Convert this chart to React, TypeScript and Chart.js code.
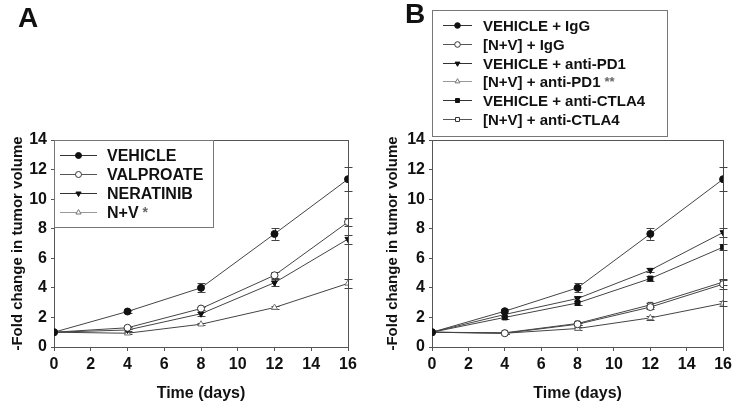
import React, { useEffect, useRef } from 'react';
import { Chart, registerables } from 'chart.js';

Chart.register(...registerables);

// ---------- DATA ----------
const days = [0, 4, 8, 12, 16];
const xTicksMin = 0;
const xTicksMax = 16;
const yTicksMin = 0;
const yTicksMax = 14;

// Panel A
const aLabels = ['VEHICLE', 'VALPROATE', 'NERATINIB', 'N+V'];
const aSuffix = ['', '', '', '*'];
const aVehicle = [1, 2.4, 4.0, 7.65, 11.35];
const aValproate = [1, 1.3, 2.6, 4.85, 8.45];
const aNeratinib = [1, 1.15, 2.25, 4.35, 7.3];
const aNV = [1, 0.93, 1.54, 2.67, 4.3];
const aVehicleErr = [0, 0.12, 0.3, 0.4, 0.8];
const aValproateErr = [0, 0.08, 0.12, 0.2, 0.25];
const aNeratinibErr = [0, 0.08, 0.15, 0.25, 0.3];
const aNVErr = [0, 0.06, 0.08, 0.12, 0.3];

// Panel B
const bLabels = [
  'VEHICLE + IgG',
  '[N+V] + IgG',
  'VEHICLE + anti-PD1',
  '[N+V] + anti-PD1',
  'VEHICLE + anti-CTLA4',
  '[N+V] + anti-CTLA4',
];
const bSuffix = ['', '', '', '**', '', ''];
const bVehIgG = [1, 2.42, 4.0, 7.65, 11.35];
const bNVIgG = [1, 0.93, 1.54, 2.7, 4.25];
const bVehPD1 = [1, 2.2, 3.28, 5.2, 7.75];
const bNVPD1 = [1, 0.93, 1.25, 1.97, 2.95];
const bVehCTLA4 = [1, 2.0, 2.98, 4.63, 6.75];
const bNVCTLA4 = [1, 0.96, 1.59, 2.85, 4.39];
const bVehIgGErr = [0, 0.12, 0.3, 0.4, 0.8];
const bNVIgGErr = [0, 0.06, 0.08, 0.12, 0.3];
const bVehPD1Err = [0, 0.1, 0.15, 0.15, 0.3];
const bNVPD1Err = [0, 0.06, 0.08, 0.12, 0.15];
const bVehCTLA4Err = [0, 0.1, 0.15, 0.15, 0.2];
const bNVCTLA4Err = [0, 0.06, 0.1, 0.12, 0.2];

// ---------- STYLES ----------
const FONT = '"Liberation Sans", Arial, Helvetica, sans-serif';
Chart.defaults.font.family = FONT;

type Marker = { style: string; rot: number; fill: string; stroke: string; legendLine: string };
const M_FILLED_CIRCLE: Marker = { style: 'circle', rot: 0, fill: '#111', stroke: '#111', legendLine: '#333' };
const M_OPEN_CIRCLE: Marker = { style: 'circle', rot: 0, fill: '#fff', stroke: '#333', legendLine: '#555' };
const M_DOWN_TRI: Marker = { style: 'triangle', rot: 180, fill: '#111', stroke: '#111', legendLine: '#333' };
const M_OPEN_TRI: Marker = { style: 'triangle', rot: 0, fill: '#fff', stroke: '#777', legendLine: '#999' };
const M_FILLED_SQ: Marker = { style: 'rect', rot: 0, fill: '#111', stroke: '#111', legendLine: '#333' };
const M_OPEN_SQ: Marker = { style: 'rect', rot: 0, fill: '#fff', stroke: '#333', legendLine: '#555' };

function drawMarker(ctx: CanvasRenderingContext2D, m: Marker, x: number, y: number, r: number) {
  ctx.save();
  ctx.beginPath();
  if (m.style === 'circle') {
    ctx.arc(x, y, r, 0, Math.PI * 2);
  } else if (m.style === 'rect') {
    const h = r * Math.SQRT1_2 * 1.0;
    ctx.rect(x - h, y - h, 2 * h, 2 * h);
  } else {
    const d = m.rot === 180 ? -1 : 1;
    ctx.moveTo(x, y - d * r);
    ctx.lineTo(x - r * 0.866, y + d * r * 0.5);
    ctx.lineTo(x + r * 0.866, y + d * r * 0.5);
    ctx.closePath();
  }
  ctx.fillStyle = m.fill;
  ctx.fill();
  ctx.strokeStyle = m.stroke;
  ctx.lineWidth = 1;
  ctx.stroke();
  ctx.restore();
}

type PanelCfg = {
  letter: string;
  letterX: number;
  letterY: number;
  labels: string[];
  suffix: string[];
  values: number[][];
  errors: number[][];
  markers: Marker[];
  padRight: number;
  yAxisWidth: number;
  yTitlePad: number;
  legend: {
    x: number; y: number; w: number; h: number;
    row0: number; rowH: number; l0: number; l1: number; tx: number; font: number; r: number;
  };
};

function makeDeco(cfg: PanelCfg) {
  return {
    id: 'deco' + cfg.letter,
    beforeDatasetsDraw(chart: any) {
      const ctx = chart.ctx as CanvasRenderingContext2D;
      const a = chart.chartArea;
      ctx.save();
      ctx.strokeStyle = '#555';
      ctx.lineWidth = 1;
      ctx.strokeRect(Math.round(a.left) + 0.5, Math.round(a.top) + 0.5, Math.round(a.right - a.left), Math.round(a.bottom - a.top));
      // error bars
      const xs = chart.scales.x;
      const ys = chart.scales.y;
      ctx.strokeStyle = '#444';
      cfg.values.forEach((vals, i) => {
        const errs = cfg.errors[i];
        vals.forEach((v, j) => {
          const e = errs[j];
          if (!e) return;
          const px = Math.round(xs.getPixelForValue(days[j])) + 0.5;
          const t = ys.getPixelForValue(v + e);
          const b = ys.getPixelForValue(v - e);
          ctx.beginPath();
          ctx.moveTo(px, t);
          ctx.lineTo(px, b);
          ctx.moveTo(px - 4, Math.round(t) + 0.5);
          ctx.lineTo(px + 4, Math.round(t) + 0.5);
          ctx.moveTo(px - 4, Math.round(b) + 0.5);
          ctx.lineTo(px + 4, Math.round(b) + 0.5);
          ctx.stroke();
        });
      });
      ctx.restore();
    },
    afterDraw(chart: any) {
      const ctx = chart.ctx as CanvasRenderingContext2D;
      const L = cfg.legend;
      ctx.save();
      // panel letter
      ctx.fillStyle = '#111';
      ctx.font = `bold 28px ${FONT}`;
      ctx.textBaseline = 'alphabetic';
      ctx.textAlign = 'left';
      ctx.fillText(cfg.letter, cfg.letterX, cfg.letterY);
      // legend box
      ctx.fillStyle = '#fff';
      ctx.fillRect(L.x, L.y, L.w, L.h);
      ctx.strokeStyle = '#777';
      ctx.lineWidth = 1;
      ctx.strokeRect(L.x + 0.5, L.y + 0.5, L.w, L.h);
      cfg.labels.forEach((lab, i) => {
        const y = Math.round(L.row0 + i * L.rowH) + 0.5;
        const m = cfg.markers[i];
        ctx.strokeStyle = m.legendLine;
        ctx.beginPath();
        ctx.moveTo(L.l0, y);
        ctx.lineTo(L.l1, y);
        ctx.stroke();
        drawMarker(ctx, m, (L.l0 + L.l1) / 2, y, L.r);
        ctx.fillStyle = '#111';
        ctx.font = `bold ${L.font}px ${FONT}`;
        ctx.textBaseline = 'middle';
        ctx.fillText(lab, L.tx, y + 1);
        if (cfg.suffix[i]) {
          const w = ctx.measureText(lab).width;
          ctx.fillStyle = '#666';
          ctx.font = `bold ${L.font - 2}px ${FONT}`;
          ctx.fillText(cfg.suffix[i], L.tx + w + 4, y + 1);
        }
      });
      ctx.restore();
    },
  };
}

function buildChart(canvas: HTMLCanvasElement, cfg: PanelCfg) {
  const datasets = cfg.values.map((vals, i) => {
    const m = cfg.markers[i];
    return {
      label: cfg.labels[i],
      data: vals.map((v, j) => ({ x: days[j], y: v })),
      borderColor: '#444',
      borderWidth: 1,
      pointStyle: m.style,
      pointRotation: m.rot,
      pointRadius: 3.5,
      pointBackgroundColor: m.fill,
      pointBorderColor: m.stroke,
      pointBorderWidth: 1,
      tension: 0,
      fill: false,
    };
  });
  return new Chart(canvas, {
    type: 'line',
    data: { datasets },
    options: {
      animation: false,
      responsive: false,
      maintainAspectRatio: false,
      layout: { padding: { left: 0, top: 140, right: cfg.padRight, bottom: 0 } },
      plugins: { legend: { display: false }, tooltip: { enabled: false } },
      scales: {
        x: {
          type: 'linear',
          min: xTicksMin,
          max: xTicksMax,
          ticks: { stepSize: 2, color: '#111', font: { size: 16, weight: 'bold' }, padding: 4 },
          grid: { drawOnChartArea: false, drawTicks: true, tickLength: 4, color: '#555' },
          border: { display: true, color: '#555' },
          title: {
            display: true,
            text: 'Time (days)',
            color: '#111',
            font: { size: 16, weight: 'bold' },
            padding: { top: 0, bottom: 1 },
          },
          afterFit: (s: any) => { s.height = 57; },
        },
        y: {
          min: yTicksMin,
          max: yTicksMax,
          ticks: { stepSize: 2, color: '#111', font: { size: 16, weight: 'bold' }, padding: 4 },
          grid: { drawOnChartArea: false, drawTicks: true, tickLength: 3, color: '#555' },
          border: { display: true, color: '#555' },
          title: {
            display: true,
            text: '-Fold change in tumor volume',
            color: '#111',
            font: { size: 15, weight: 'bold' },
            padding: { top: cfg.yTitlePad, bottom: 0 },
          },
          afterFit: (s: any) => { s.width = cfg.yAxisWidth; },
        },
      },
    } as any,
    plugins: [makeDeco(cfg) as any],
  });
}

const cfgA: PanelCfg = {
  letter: 'A',
  letterX: 18,
  letterY: 27,
  labels: aLabels,
  suffix: aSuffix,
  values: [aVehicle, aValproate, aNeratinib, aNV],
  errors: [aVehicleErr, aValproateErr, aNeratinibErr, aNVErr],
  markers: [M_FILLED_CIRCLE, M_OPEN_CIRCLE, M_DOWN_TRI, M_OPEN_TRI],
  padRight: 20,
  yAxisWidth: 54,
  yTitlePad: 9,
  legend: { x: 54, y: 140, w: 159, h: 87, row0: 155, rowH: 19, l0: 60, l1: 97, tx: 107, font: 16, r: 3 },
};

const cfgB: PanelCfg = {
  letter: 'B',
  letterX: 37,
  letterY: 23,
  labels: bLabels,
  suffix: bSuffix,
  values: [bVehIgG, bNVIgG, bVehPD1, bNVPD1, bVehCTLA4, bNVCTLA4],
  errors: [bVehIgGErr, bNVIgGErr, bVehPD1Err, bNVPD1Err, bVehCTLA4Err, bNVCTLA4Err],
  markers: [M_FILLED_CIRCLE, M_OPEN_CIRCLE, M_DOWN_TRI, M_OPEN_TRI, M_FILLED_SQ, M_OPEN_SQ],
  padRight: 10,
  yAxisWidth: 64,
  yTitlePad: 16,
  legend: { x: 64, y: 10, w: 235, h: 126, row0: 25, rowH: 18.8, l0: 75, l1: 104, tx: 115, font: 15, r: 2.8 },
};

function Panel({ cfg, left }: { cfg: PanelCfg; left: number }) {
  const ref = useRef<HTMLCanvasElement | null>(null);
  useEffect(() => {
    if (!ref.current) return;
    const chart = buildChart(ref.current, cfg);
    return () => chart.destroy();
  }, [cfg]);
  return (
    <canvas
      ref={ref}
      width={368}
      height={404}
      style={{ position: 'absolute', left, top: 0, width: 368, height: 404 }}
    />
  );
}

export default function App() {
  return (
    <div style={{ position: 'fixed', left: 0, top: 0, width: 736, height: 404, background: '#fff', overflow: 'hidden' }}>
      <Panel cfg={cfgA} left={0} />
      <Panel cfg={cfgB} left={368} />
    </div>
  );
}
